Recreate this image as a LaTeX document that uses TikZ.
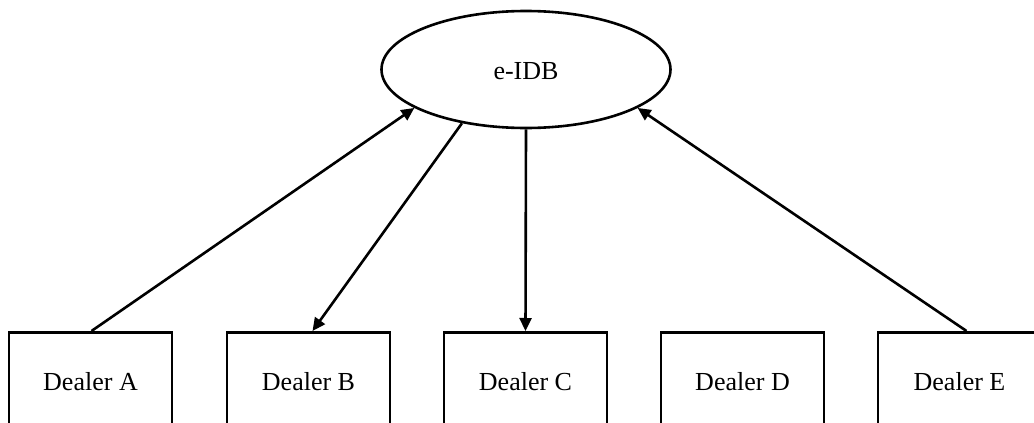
\documentclass[tikz,border=0pt]{standalone}
\usepackage{fontspec}
\setmainfont{Liberation Serif}
\usetikzlibrary{shapes.geometric,arrows.meta}
\begin{document}
\begin{tikzpicture}[x=1pt,y=-1pt,
  every node/.style={font=\fontsize{26}{30}\selectfont},
  dealer/.style={draw,line width=2.6pt,rectangle,minimum width=163pt,minimum height=98pt,anchor=north,inner sep=0pt},
  hub/.style={draw,line width=2.6pt,ellipse,minimum width=289pt,minimum height=117pt,inner sep=0pt},
  conn/.style={line width=2.6pt,-{Triangle[length=13pt,width=12pt]}}]
\useasboundingbox (0,0) rectangle (1034,423);
\clip (0,0) rectangle (1034,423);
\node[hub] (e) at (526,69.5) {};
\node at (526,71) {e-IDB};
\node[dealer] (a) at (90.5,331) {Dealer A};
\node[dealer] (b) at (308.5,331) {Dealer B};
\node[dealer] (c) at (525.5,331) {Dealer C};
\node[dealer] (d) at (742.5,331) {Dealer D};
\node[dealer] (f) at (959.5,331) {Dealer E};
\draw[conn] ([xshift=1pt]a.north) -- (e.199.3);
\draw[conn] (e.220.8) -- ([xshift=4pt]b.north);
\draw[conn] (e.south) -- (c.north);
\draw[conn] ([xshift=7pt]f.north) -- (e.341.3);
\end{tikzpicture}
\end{document}
